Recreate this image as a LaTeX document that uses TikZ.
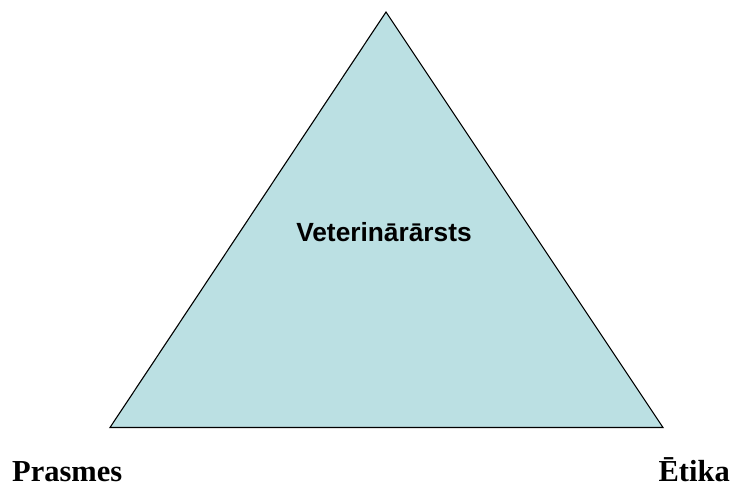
\documentclass[tikz,border=0pt]{standalone}
\usepackage{fontspec}
\setmainfont{Liberation Serif}
\newfontfamily\arialfont{Liberation Sans}
\definecolor{trifill}{RGB}{187,224,227}
\begin{document}
\begin{tikzpicture}[x=1pt,y=-1pt,
  corner/.style={font=\bfseries\fontsize{30.5}{34}\selectfont, inner sep=0pt},
  title/.style={font=\arialfont\bfseries\fontsize{26.3}{30}\selectfont, inner sep=0pt}]
\useasboundingbox (0,0) rectangle (731,490);
\coordinate (apex) at (386,12);
\coordinate (bl) at (110,427.5);
\coordinate (br) at (663,427.5);
\draw[fill=trifill, line width=1.1pt, line join=miter] (apex) -- (br) -- (bl) -- cycle;
\node[title, anchor=base] (vet) at (384,241) {Veterinārārsts};
\node[corner, anchor=base west] (pr) at (12,481) {Prasmes};
\node[corner, anchor=base east] (et) at (730,481) {Ētika};
\end{tikzpicture}
\end{document}
